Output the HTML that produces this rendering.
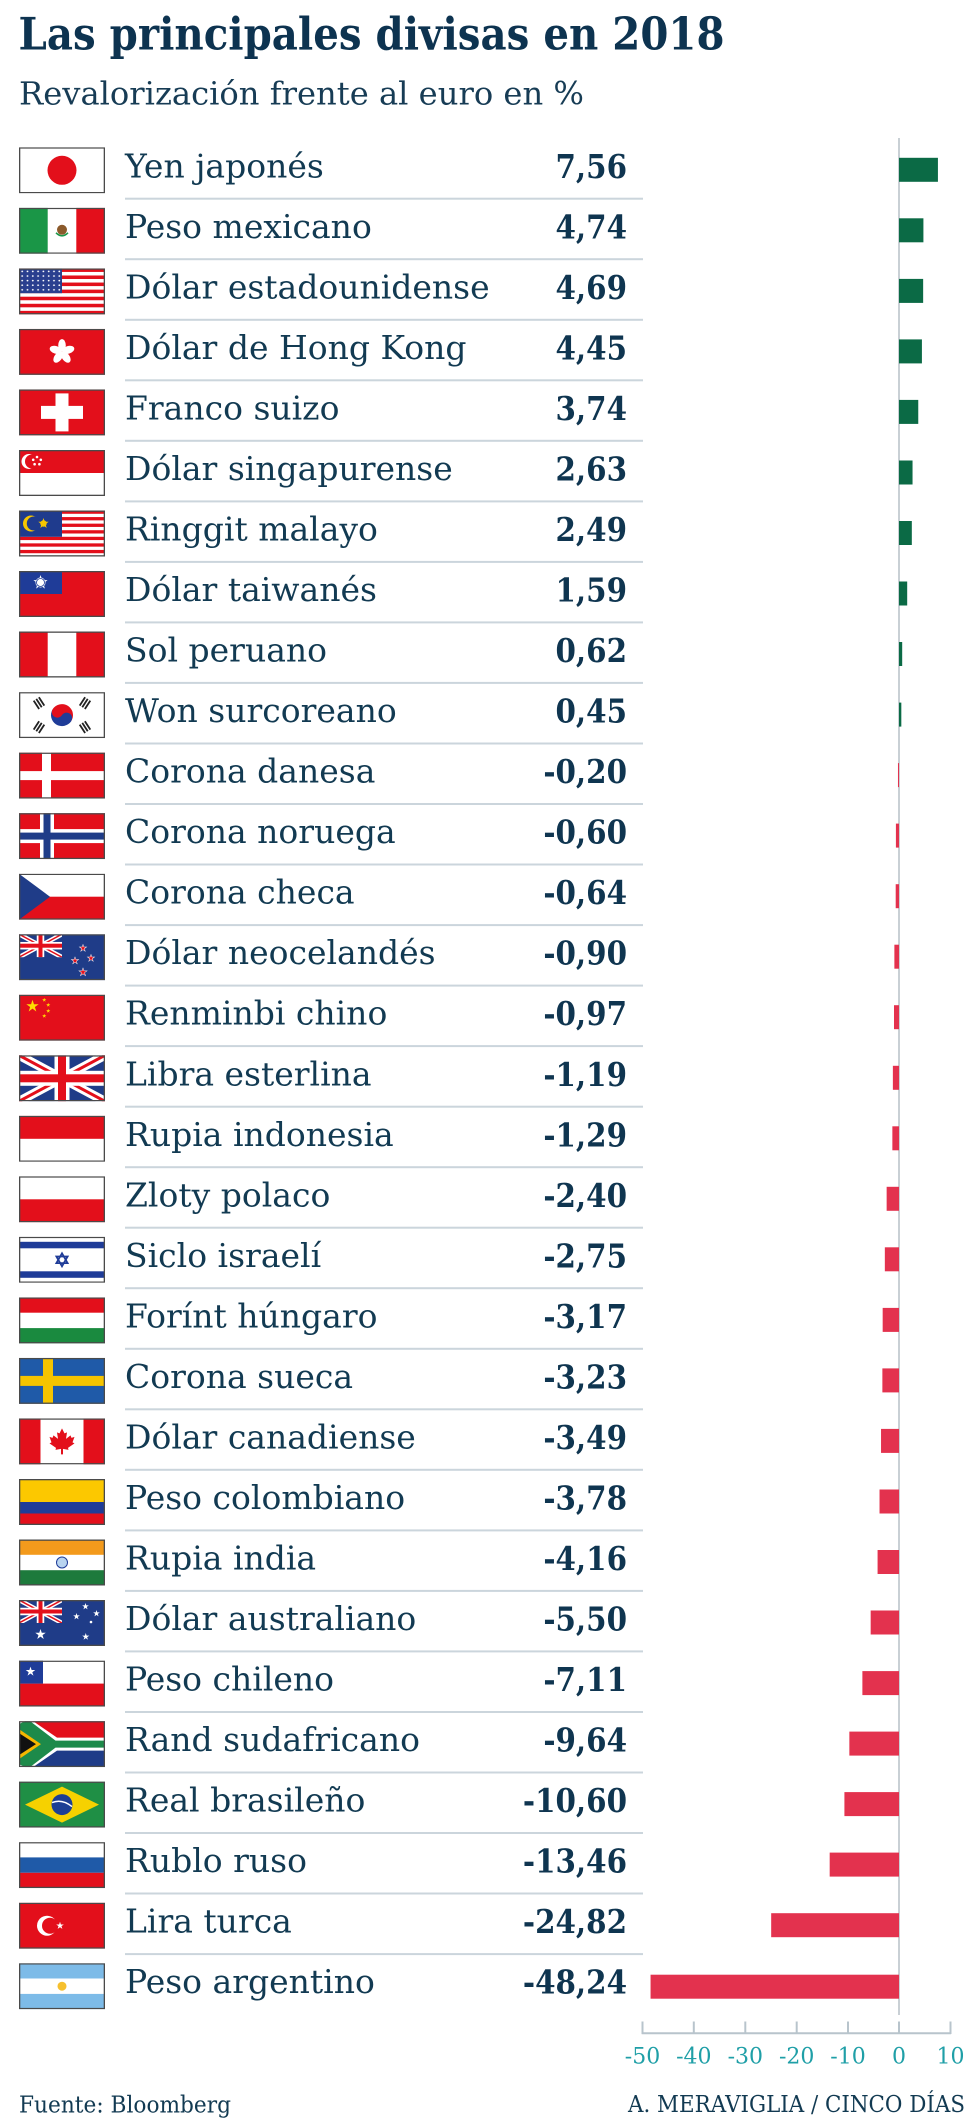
<!DOCTYPE html>
<html><head><meta charset="utf-8"><style>
html,body{margin:0;padding:0;background:#fff}
svg{display:block}
</style></head><body>
<svg xmlns="http://www.w3.org/2000/svg" xmlns:xlink="http://www.w3.org/1999/xlink" width="980" height="2126" viewBox="0 0 980 2126">
<style>
.lb{font-family:"DejaVu Serif","Liberation Serif",serif;font-size:33px;fill:#123a52}
.vl{font-family:"DejaVu Serif","Liberation Serif",serif;font-weight:bold;font-size:33px;fill:#0f3550;text-anchor:end}
.fb{fill:none;stroke:#4a4a4a;stroke-width:1.3}
.tk{font-family:"DejaVu Serif","Liberation Serif",serif;font-size:22px;fill:#1f9fa7;text-anchor:middle}
.ft{font-family:"DejaVu Serif","Liberation Serif",serif;font-size:23px;fill:#123a52}
.sep{fill:#cbd5dc}
.g{fill:#0b6a45}
.r{fill:#e3324e}
</style>
<defs>
<symbol id="uj" viewBox="0 0 86 46" preserveAspectRatio="none">
<rect width="86" height="46" fill="#1f3c88"/>
<path d="M0,0L86,46M86,0L0,46" stroke="#fff" stroke-width="9"/>
<path d="M0,0L86,46M86,0L0,46" stroke="#e30f1b" stroke-width="3"/>
<rect x="35.5" width="15" height="46" fill="#fff"/>
<rect y="15.5" width="86" height="15" fill="#fff"/>
<rect x="39" width="8" height="46" fill="#e30f1b"/>
<rect y="19" width="86" height="8" fill="#e30f1b"/>
</symbol>
<symbol id="st" viewBox="-1 -1 2 2"><polygon points="0,-1 0.225,-0.309 0.951,-0.309 0.363,0.118 0.588,0.809 0,0.382 -0.588,0.809 -0.363,0.118 -0.951,-0.309 -0.225,-0.309"/></symbol>
<pattern id="usst" x="1" y="1" width="5.3" height="4.6" patternUnits="userSpaceOnUse"><circle cx="2.2" cy="2" r="0.9" fill="#fff"/></pattern>
</defs>

<text x="18.5" y="49.3" font-family="DejaVu Serif, Liberation Serif, serif" font-weight="bold" font-size="44.5" fill="#0d3350" textLength="706" lengthAdjust="spacingAndGlyphs">Las principales divisas en 2018</text>
<text x="19" y="104.5" font-family="DejaVu Serif, Liberation Serif, serif" font-size="31.5" fill="#173c55" textLength="565" lengthAdjust="spacingAndGlyphs">Revalorización frente al euro en %</text>

<rect x="898" y="138" width="2" height="1877" fill="#c9d0d5"/>

<g transform="translate(0,147.3)">
<svg x="19" y="0" width="86" height="46" viewBox="0 0 86 46"><rect width="86" height="46" fill="#fff"/><circle cx="43" cy="23" r="14.5" fill="#e30f1b"/><rect class="fb" x="0.65" y="0.65" width="84.7" height="44.7"/></svg>
<text class="lb" x="125" y="30">Yen japonés</text>
<text class="vl" transform="translate(627,30.5) scale(0.89,1)">7,56</text>
<rect class="g" x="899" y="10.5" width="38.93" height="24"/>
<rect class="sep" x="125" y="50.4" width="518" height="2"/>
</g>

<g transform="translate(0,207.8)">
<svg x="19" y="0" width="86" height="46" viewBox="0 0 86 46"><rect width="86" height="46" fill="#fff"/><rect width="28.7" height="46" fill="#1a9647"/><rect x="57.3" width="28.7" height="46" fill="#e30f1b"/><circle cx="43" cy="22" r="5" fill="#8b5a2b"/><path d="M37,25 Q43,31 49,25" stroke="#1a9647" stroke-width="1.5" fill="none"/><rect class="fb" x="0.65" y="0.65" width="84.7" height="44.7"/></svg>
<text class="lb" x="125" y="30">Peso mexicano</text>
<text class="vl" transform="translate(627,30.5) scale(0.89,1)">4,74</text>
<rect class="g" x="899" y="10.5" width="24.41" height="24"/>
<rect class="sep" x="125" y="50.4" width="518" height="2"/>
</g>

<g transform="translate(0,268.4)">
<svg x="19" y="0" width="86" height="46" viewBox="0 0 86 46"><rect width="86" height="46" fill="#fff"/>
<rect y="0" width="86" height="3.54" fill="#e30f1b"/><rect y="7.08" width="86" height="3.54" fill="#e30f1b"/><rect y="14.15" width="86" height="3.54" fill="#e30f1b"/><rect y="21.23" width="86" height="3.54" fill="#e30f1b"/><rect y="28.31" width="86" height="3.54" fill="#e30f1b"/><rect y="35.38" width="86" height="3.54" fill="#e30f1b"/><rect y="42.46" width="86" height="3.54" fill="#e30f1b"/>
<rect width="43" height="24.8" fill="#2a3f8f"/><rect width="43" height="24.8" fill="url(#usst)"/>
<rect class="fb" x="0.65" y="0.65" width="84.7" height="44.7"/></svg>
<text class="lb" x="125" y="30">Dólar estadounidense</text>
<text class="vl" transform="translate(627,30.5) scale(0.89,1)">4,69</text>
<rect class="g" x="899" y="10.5" width="24.15" height="24"/>
<rect class="sep" x="125" y="50.4" width="518" height="2"/>
</g>

<g transform="translate(0,328.9)">
<svg x="19" y="0" width="86" height="46" viewBox="0 0 86 46"><rect width="86" height="46" fill="#e30f1b"/>
<g transform="translate(43,23)" fill="#fff"><ellipse cx="0" cy="-6.5" rx="3.8" ry="6.3"/><ellipse cx="0" cy="-6.5" rx="3.8" ry="6.3" transform="rotate(72)"/><ellipse cx="0" cy="-6.5" rx="3.8" ry="6.3" transform="rotate(144)"/><ellipse cx="0" cy="-6.5" rx="3.8" ry="6.3" transform="rotate(216)"/><ellipse cx="0" cy="-6.5" rx="3.8" ry="6.3" transform="rotate(288)"/></g>
<rect class="fb" x="0.65" y="0.65" width="84.7" height="44.7"/></svg>
<text class="lb" x="125" y="30">Dólar de Hong Kong</text>
<text class="vl" transform="translate(627,30.5) scale(0.89,1)">4,45</text>
<rect class="g" x="899" y="10.5" width="22.92" height="24"/>
<rect class="sep" x="125" y="50.4" width="518" height="2"/>
</g>

<g transform="translate(0,389.4)">
<svg x="19" y="0" width="86" height="46" viewBox="0 0 86 46"><rect width="86" height="46" fill="#e30f1b"/><rect x="22" y="16.5" width="42" height="13" fill="#fff"/><rect x="36.5" y="4" width="13" height="38" fill="#fff"/><rect class="fb" x="0.65" y="0.65" width="84.7" height="44.7"/></svg>
<text class="lb" x="125" y="30">Franco suizo</text>
<text class="vl" transform="translate(627,30.5) scale(0.89,1)">3,74</text>
<rect class="g" x="899" y="10.5" width="19.26" height="24"/>
<rect class="sep" x="125" y="50.4" width="518" height="2"/>
</g>

<g transform="translate(0,450.0)">
<svg x="19" y="0" width="86" height="46" viewBox="0 0 86 46"><rect width="86" height="46" fill="#fff"/><rect width="86" height="23" fill="#e30f1b"/><circle cx="10" cy="11.5" r="7.5" fill="#fff"/><circle cx="13" cy="11.5" r="7" fill="#e30f1b"/>
<g fill="#fff"><circle cx="18" cy="7" r="1.3"/><circle cx="21.8" cy="9.8" r="1.3"/><circle cx="20.4" cy="14.2" r="1.3"/><circle cx="15.6" cy="14.2" r="1.3"/><circle cx="14.2" cy="9.8" r="1.3"/></g>
<rect class="fb" x="0.65" y="0.65" width="84.7" height="44.7"/></svg>
<text class="lb" x="125" y="30">Dólar singapurense</text>
<text class="vl" transform="translate(627,30.5) scale(0.89,1)">2,63</text>
<rect class="g" x="899" y="10.5" width="13.54" height="24"/>
<rect class="sep" x="125" y="50.4" width="518" height="2"/>
</g>

<g transform="translate(0,510.5)">
<svg x="19" y="0" width="86" height="46" viewBox="0 0 86 46"><rect width="86" height="46" fill="#fff"/>
<rect y="0" width="86" height="3.29" fill="#e30f1b"/><rect y="6.57" width="86" height="3.29" fill="#e30f1b"/><rect y="13.14" width="86" height="3.29" fill="#e30f1b"/><rect y="19.71" width="86" height="3.29" fill="#e30f1b"/><rect y="26.29" width="86" height="3.29" fill="#e30f1b"/><rect y="32.86" width="86" height="3.29" fill="#e30f1b"/><rect y="39.43" width="86" height="3.29" fill="#e30f1b"/>
<rect width="43" height="26.3" fill="#1f3b8d"/><circle cx="12" cy="13" r="8" fill="#f7c600"/><circle cx="14.8" cy="13" r="7" fill="#1f3b8d"/><use href="#st" x="19" y="7.5" width="11" height="11" fill="#f7c600"/><circle cx="24.5" cy="13" r="3.2" fill="#f7c600"/>
<rect class="fb" x="0.65" y="0.65" width="84.7" height="44.7"/></svg>
<text class="lb" x="125" y="30">Ringgit malayo</text>
<text class="vl" transform="translate(627,30.5) scale(0.89,1)">2,49</text>
<rect class="g" x="899" y="10.5" width="12.82" height="24"/>
<rect class="sep" x="125" y="50.4" width="518" height="2"/>
</g>

<g transform="translate(0,571.0)">
<svg x="19" y="0" width="86" height="46" viewBox="0 0 86 46"><rect width="86" height="46" fill="#e30f1b"/><rect width="43" height="23" fill="#1f3c98"/><use href="#st" x="14" y="4" width="15" height="15" fill="#fff"/><circle cx="21.5" cy="11.5" r="5" fill="#fff"/><circle cx="21.5" cy="11.5" r="4" fill="none" stroke="#1f3c98" stroke-width="0.8"/><rect class="fb" x="0.65" y="0.65" width="84.7" height="44.7"/></svg>
<text class="lb" x="125" y="30">Dólar taiwanés</text>
<text class="vl" transform="translate(627,30.5) scale(0.89,1)">1,59</text>
<rect class="g" x="899" y="10.5" width="8.19" height="24"/>
<rect class="sep" x="125" y="50.4" width="518" height="2"/>
</g>

<g transform="translate(0,631.5)">
<svg x="19" y="0" width="86" height="46" viewBox="0 0 86 46"><rect width="86" height="46" fill="#fff"/><rect width="28.7" height="46" fill="#e30f1b"/><rect x="57.3" width="28.7" height="46" fill="#e30f1b"/><rect class="fb" x="0.65" y="0.65" width="84.7" height="44.7"/></svg>
<text class="lb" x="125" y="30">Sol peruano</text>
<text class="vl" transform="translate(627,30.5) scale(0.89,1)">0,62</text>
<rect class="g" x="899" y="10.5" width="3.19" height="24"/>
<rect class="sep" x="125" y="50.4" width="518" height="2"/>
</g>

<g transform="translate(0,692.1)">
<svg x="19" y="0" width="86" height="46" viewBox="0 0 86 46"><rect width="86" height="46" fill="#fff"/>
<g transform="rotate(33 43 23)"><path d="M32,23 A11,11 0 0 1 54,23 Z" fill="#e30f1b"/><path d="M32,23 A11,11 0 0 0 54,23 Z" fill="#1f3c98"/><circle cx="37.5" cy="23" r="5.5" fill="#e30f1b"/><circle cx="48.5" cy="23" r="5.5" fill="#1f3c98"/></g>
<g fill="#222"><g transform="translate(20,11) rotate(57)"><rect x="-5" y="-4" width="10" height="1.8"/><rect x="-5" y="-0.9" width="10" height="1.8"/><rect x="-5" y="2.2" width="10" height="1.8"/></g>
<g transform="translate(66,35) rotate(57)"><rect x="-5" y="-4" width="10" height="1.8"/><rect x="-5" y="-0.9" width="10" height="1.8"/><rect x="-5" y="2.2" width="10" height="1.8"/></g>
<g transform="translate(66,11) rotate(-57)"><rect x="-5" y="-4" width="10" height="1.8"/><rect x="-5" y="-0.9" width="10" height="1.8"/><rect x="-5" y="2.2" width="10" height="1.8"/></g>
<g transform="translate(20,35) rotate(-57)"><rect x="-5" y="-4" width="10" height="1.8"/><rect x="-5" y="-0.9" width="10" height="1.8"/><rect x="-5" y="2.2" width="10" height="1.8"/></g></g>
<rect class="fb" x="0.65" y="0.65" width="84.7" height="44.7"/></svg>
<text class="lb" x="125" y="30">Won surcoreano</text>
<text class="vl" transform="translate(627,30.5) scale(0.89,1)">0,45</text>
<rect class="g" x="899" y="10.5" width="2.32" height="24"/>
<rect class="sep" x="125" y="50.4" width="518" height="2"/>
</g>

<g transform="translate(0,752.6)">
<svg x="19" y="0" width="86" height="46" viewBox="0 0 86 46"><rect width="86" height="46" fill="#e30f1b"/><rect x="23" width="9" height="46" fill="#fff"/><rect y="18.5" width="86" height="9" fill="#fff"/><rect class="fb" x="0.65" y="0.65" width="84.7" height="44.7"/></svg>
<text class="lb" x="125" y="30">Corona danesa</text>
<text class="vl" transform="translate(627,30.5) scale(0.89,1)">-0,20</text>
<rect class="r" x="897.97" y="10.5" width="1.03" height="24"/>
<rect class="sep" x="125" y="50.4" width="518" height="2"/>
</g>

<g transform="translate(0,813.1)">
<svg x="19" y="0" width="86" height="46" viewBox="0 0 86 46"><rect width="86" height="46" fill="#e30f1b"/><rect x="21" width="14" height="46" fill="#fff"/><rect y="16" width="86" height="14" fill="#fff"/><rect x="24.5" width="7" height="46" fill="#1f3c88"/><rect y="19.5" width="86" height="7" fill="#1f3c88"/><rect class="fb" x="0.65" y="0.65" width="84.7" height="44.7"/></svg>
<text class="lb" x="125" y="30">Corona noruega</text>
<text class="vl" transform="translate(627,30.5) scale(0.89,1)">-0,60</text>
<rect class="r" x="895.91" y="10.5" width="3.09" height="24"/>
<rect class="sep" x="125" y="50.4" width="518" height="2"/>
</g>

<g transform="translate(0,873.7)">
<svg x="19" y="0" width="86" height="46" viewBox="0 0 86 46"><rect width="86" height="46" fill="#fff"/><rect y="23" width="86" height="23" fill="#e30f1b"/><polygon points="0,0 31,23 0,46" fill="#1f3c88"/><rect class="fb" x="0.65" y="0.65" width="84.7" height="44.7"/></svg>
<text class="lb" x="125" y="30">Corona checa</text>
<text class="vl" transform="translate(627,30.5) scale(0.89,1)">-0,64</text>
<rect class="r" x="895.70" y="10.5" width="3.30" height="24"/>
<rect class="sep" x="125" y="50.4" width="518" height="2"/>
</g>

<g transform="translate(0,934.2)">
<svg x="19" y="0" width="86" height="46" viewBox="0 0 86 46"><rect width="86" height="46" fill="#1f3c88"/><use href="#uj" width="43" height="23"/>
<use href="#st" x="59.5" y="9.5" width="9" height="9" fill="#fff"/><use href="#st" x="61" y="11" width="6" height="6" fill="#e30f1b"/>
<use href="#st" x="67.5" y="19.5" width="9" height="9" fill="#fff"/><use href="#st" x="69" y="21" width="6" height="6" fill="#e30f1b"/>
<use href="#st" x="51.5" y="22" width="9" height="9" fill="#fff"/><use href="#st" x="53" y="23.5" width="6" height="6" fill="#e30f1b"/>
<use href="#st" x="59" y="33" width="10" height="10" fill="#fff"/><use href="#st" x="60.5" y="34.5" width="7" height="7" fill="#e30f1b"/>
<rect class="fb" x="0.65" y="0.65" width="84.7" height="44.7"/></svg>
<text class="lb" x="125" y="30">Dólar neocelandés</text>
<text class="vl" transform="translate(627,30.5) scale(0.89,1)">-0,90</text>
<rect class="r" x="894.37" y="10.5" width="4.64" height="24"/>
<rect class="sep" x="125" y="50.4" width="518" height="2"/>
</g>

<g transform="translate(0,994.7)">
<svg x="19" y="0" width="86" height="46" viewBox="0 0 86 46"><rect width="86" height="46" fill="#e30f1b"/><use href="#st" x="7" y="5" width="13" height="13" fill="#ffde00"/><use href="#st" x="23" y="3" width="4.5" height="4.5" fill="#ffde00"/><use href="#st" x="27" y="8" width="4.5" height="4.5" fill="#ffde00"/><use href="#st" x="27" y="14" width="4.5" height="4.5" fill="#ffde00"/><use href="#st" x="23" y="19" width="4.5" height="4.5" fill="#ffde00"/><rect class="fb" x="0.65" y="0.65" width="84.7" height="44.7"/></svg>
<text class="lb" x="125" y="30">Renminbi chino</text>
<text class="vl" transform="translate(627,30.5) scale(0.89,1)">-0,97</text>
<rect class="r" x="894.00" y="10.5" width="5.00" height="24"/>
<rect class="sep" x="125" y="50.4" width="518" height="2"/>
</g>

<g transform="translate(0,1055.3)">
<svg x="19" y="0" width="86" height="46" viewBox="0 0 86 46"><use href="#uj" width="86" height="46"/><rect class="fb" x="0.65" y="0.65" width="84.7" height="44.7"/></svg>
<text class="lb" x="125" y="30">Libra esterlina</text>
<text class="vl" transform="translate(627,30.5) scale(0.89,1)">-1,19</text>
<rect class="r" x="892.87" y="10.5" width="6.13" height="24"/>
<rect class="sep" x="125" y="50.4" width="518" height="2"/>
</g>

<g transform="translate(0,1115.8)">
<svg x="19" y="0" width="86" height="46" viewBox="0 0 86 46"><rect width="86" height="46" fill="#fff"/><rect width="86" height="23" fill="#e30f1b"/><rect class="fb" x="0.65" y="0.65" width="84.7" height="44.7"/></svg>
<text class="lb" x="125" y="30">Rupia indonesia</text>
<text class="vl" transform="translate(627,30.5) scale(0.89,1)">-1,29</text>
<rect class="r" x="892.36" y="10.5" width="6.64" height="24"/>
<rect class="sep" x="125" y="50.4" width="518" height="2"/>
</g>

<g transform="translate(0,1176.3)">
<svg x="19" y="0" width="86" height="46" viewBox="0 0 86 46"><rect width="86" height="46" fill="#fff"/><rect y="23" width="86" height="23" fill="#e30f1b"/><rect class="fb" x="0.65" y="0.65" width="84.7" height="44.7"/></svg>
<text class="lb" x="125" y="30">Zloty polaco</text>
<text class="vl" transform="translate(627,30.5) scale(0.89,1)">-2,40</text>
<rect class="r" x="886.64" y="10.5" width="12.36" height="24"/>
<rect class="sep" x="125" y="50.4" width="518" height="2"/>
</g>

<g transform="translate(0,1236.8)">
<svg x="19" y="0" width="86" height="46" viewBox="0 0 86 46"><rect width="86" height="46" fill="#fff"/><rect y="5" width="86" height="6.5" fill="#1f3c98"/><rect y="34.5" width="86" height="6.5" fill="#1f3c98"/><polygon points="43,16.5 48.6,26.3 37.4,26.3" fill="none" stroke="#1f3c98" stroke-width="1.8"/><polygon points="43,29.5 48.6,19.7 37.4,19.7" fill="none" stroke="#1f3c98" stroke-width="1.8"/><rect class="fb" x="0.65" y="0.65" width="84.7" height="44.7"/></svg>
<text class="lb" x="125" y="30">Siclo israelí</text>
<text class="vl" transform="translate(627,30.5) scale(0.89,1)">-2,75</text>
<rect class="r" x="884.84" y="10.5" width="14.16" height="24"/>
<rect class="sep" x="125" y="50.4" width="518" height="2"/>
</g>

<g transform="translate(0,1297.4)">
<svg x="19" y="0" width="86" height="46" viewBox="0 0 86 46"><rect width="86" height="46" fill="#fff"/><rect width="86" height="15.3" fill="#e30f1b"/><rect y="30.7" width="86" height="15.3" fill="#1a8a3f"/><rect class="fb" x="0.65" y="0.65" width="84.7" height="44.7"/></svg>
<text class="lb" x="125" y="30">Forínt húngaro</text>
<text class="vl" transform="translate(627,30.5) scale(0.89,1)">-3,17</text>
<rect class="r" x="882.67" y="10.5" width="16.33" height="24"/>
<rect class="sep" x="125" y="50.4" width="518" height="2"/>
</g>

<g transform="translate(0,1357.9)">
<svg x="19" y="0" width="86" height="46" viewBox="0 0 86 46"><rect width="86" height="46" fill="#1f5aa8"/><rect x="24" width="10" height="46" fill="#f5c400"/><rect y="18" width="86" height="10" fill="#f5c400"/><rect class="fb" x="0.65" y="0.65" width="84.7" height="44.7"/></svg>
<text class="lb" x="125" y="30">Corona sueca</text>
<text class="vl" transform="translate(627,30.5) scale(0.89,1)">-3,23</text>
<rect class="r" x="882.37" y="10.5" width="16.63" height="24"/>
<rect class="sep" x="125" y="50.4" width="518" height="2"/>
</g>

<g transform="translate(0,1418.4)">
<svg x="19" y="0" width="86" height="46" viewBox="0 0 86 46"><rect width="86" height="46" fill="#fff"/><rect width="21.5" height="46" fill="#e30f1b"/><rect x="64.5" width="21.5" height="46" fill="#e30f1b"/>
<polygon transform="translate(43,22)" fill="#e30f1b" points="0,-12 2.5,-7 5,-8 4,-1.5 8.5,-5 9.5,-2.5 12.5,-3.5 10.5,2 12.5,3 6,7.5 6.5,9.5 1,8.5 1,14 -1,14 -1,8.5 -6.5,9.5 -6,7.5 -12.5,3 -10.5,2 -12.5,-3.5 -9.5,-2.5 -8.5,-5 -4,-1.5 -5,-8 -2.5,-7"/>
<rect class="fb" x="0.65" y="0.65" width="84.7" height="44.7"/></svg>
<text class="lb" x="125" y="30">Dólar canadiense</text>
<text class="vl" transform="translate(627,30.5) scale(0.89,1)">-3,49</text>
<rect class="r" x="881.03" y="10.5" width="17.97" height="24"/>
<rect class="sep" x="125" y="50.4" width="518" height="2"/>
</g>

<g transform="translate(0,1479.0)">
<svg x="19" y="0" width="86" height="46" viewBox="0 0 86 46"><rect width="86" height="46" fill="#e30f1b"/><rect width="86" height="23" fill="#fcc800"/><rect y="23" width="86" height="11.5" fill="#1f3c98"/><rect class="fb" x="0.65" y="0.65" width="84.7" height="44.7"/></svg>
<text class="lb" x="125" y="30">Peso colombiano</text>
<text class="vl" transform="translate(627,30.5) scale(0.89,1)">-3,78</text>
<rect class="r" x="879.53" y="10.5" width="19.47" height="24"/>
<rect class="sep" x="125" y="50.4" width="518" height="2"/>
</g>

<g transform="translate(0,1539.5)">
<svg x="19" y="0" width="86" height="46" viewBox="0 0 86 46"><rect width="86" height="46" fill="#fff"/><rect width="86" height="15.3" fill="#f39a1c"/><rect y="30.7" width="86" height="15.3" fill="#1d7a3c"/><circle cx="43" cy="23" r="5.5" fill="#b8d4f0" stroke="#1f3c98" stroke-width="1"/><rect class="fb" x="0.65" y="0.65" width="84.7" height="44.7"/></svg>
<text class="lb" x="125" y="30">Rupia india</text>
<text class="vl" transform="translate(627,30.5) scale(0.89,1)">-4,16</text>
<rect class="r" x="877.58" y="10.5" width="21.42" height="24"/>
<rect class="sep" x="125" y="50.4" width="518" height="2"/>
</g>

<g transform="translate(0,1600.0)">
<svg x="19" y="0" width="86" height="46" viewBox="0 0 86 46"><rect width="86" height="46" fill="#1f3c88"/><use href="#uj" width="43" height="23"/>
<use href="#st" x="16" y="29" width="11" height="11" fill="#fff"/><use href="#st" x="63" y="3" width="7" height="7" fill="#fff"/><use href="#st" x="54" y="13" width="7" height="7" fill="#fff"/><use href="#st" x="74" y="10" width="7" height="7" fill="#fff"/><use href="#st" x="63" y="33" width="7.5" height="7.5" fill="#fff"/><circle cx="72" cy="22" r="1.3" fill="#fff"/>
<rect class="fb" x="0.65" y="0.65" width="84.7" height="44.7"/></svg>
<text class="lb" x="125" y="30">Dólar australiano</text>
<text class="vl" transform="translate(627,30.5) scale(0.89,1)">-5,50</text>
<rect class="r" x="870.67" y="10.5" width="28.33" height="24"/>
<rect class="sep" x="125" y="50.4" width="518" height="2"/>
</g>

<g transform="translate(0,1660.6)">
<svg x="19" y="0" width="86" height="46" viewBox="0 0 86 46"><rect width="86" height="46" fill="#fff"/><rect y="23" width="86" height="23" fill="#e30f1b"/><rect width="24" height="23" fill="#1f3c98"/><use href="#st" x="6.5" y="6" width="10" height="10" fill="#fff"/><rect class="fb" x="0.65" y="0.65" width="84.7" height="44.7"/></svg>
<text class="lb" x="125" y="30">Peso chileno</text>
<text class="vl" transform="translate(627,30.5) scale(0.89,1)">-7,11</text>
<rect class="r" x="862.38" y="10.5" width="36.62" height="24"/>
<rect class="sep" x="125" y="50.4" width="518" height="2"/>
</g>

<g transform="translate(0,1721.1)">
<svg x="19" y="0" width="86" height="46" viewBox="0 0 86 46"><rect width="86" height="23" fill="#e30f1b"/><rect y="23" width="86" height="23" fill="#1f3c88"/>
<polygon points="0,0 14,0 38,16.5 86,16.5 86,29.5 38,29.5 14,46 0,46" fill="#fff"/>
<polygon points="0,3 6,0 11,0 36.5,19.5 86,19.5 86,26.5 36.5,26.5 11,46 6,46 0,43" fill="#1d8a4a"/>
<polygon points="0,8 22,23 0,38" fill="#f5b700"/>
<polygon points="0,12 17,23 0,34" fill="#111"/>
<rect class="fb" x="0.65" y="0.65" width="84.7" height="44.7"/></svg>
<text class="lb" x="125" y="30">Rand sudafricano</text>
<text class="vl" transform="translate(627,30.5) scale(0.89,1)">-9,64</text>
<rect class="r" x="849.35" y="10.5" width="49.65" height="24"/>
<rect class="sep" x="125" y="50.4" width="518" height="2"/>
</g>

<g transform="translate(0,1781.6)">
<svg x="19" y="0" width="86" height="46" viewBox="0 0 86 46"><rect width="86" height="46" fill="#1f8f45"/><polygon points="6,23 43,5 80,23 43,41" fill="#f6d100"/><circle cx="43" cy="23" r="10.5" fill="#1c3f94"/><path d="M33,21 Q43,17 53,25" stroke="#fff" stroke-width="1.5" fill="none"/><rect class="fb" x="0.65" y="0.65" width="84.7" height="44.7"/></svg>
<text class="lb" x="125" y="30">Real brasileño</text>
<text class="vl" transform="translate(627,30.5) scale(0.89,1)">-10,60</text>
<rect class="r" x="844.41" y="10.5" width="54.59" height="24"/>
<rect class="sep" x="125" y="50.4" width="518" height="2"/>
</g>

<g transform="translate(0,1842.1)">
<svg x="19" y="0" width="86" height="46" viewBox="0 0 86 46"><rect width="86" height="46" fill="#fff"/><rect y="15.3" width="86" height="15.4" fill="#1f5aa8"/><rect y="30.7" width="86" height="15.3" fill="#e30f1b"/><rect class="fb" x="0.65" y="0.65" width="84.7" height="44.7"/></svg>
<text class="lb" x="125" y="30">Rublo ruso</text>
<text class="vl" transform="translate(627,30.5) scale(0.89,1)">-13,46</text>
<rect class="r" x="829.68" y="10.5" width="69.32" height="24"/>
<rect class="sep" x="125" y="50.4" width="518" height="2"/>
</g>

<g transform="translate(0,1902.7)">
<svg x="19" y="0" width="86" height="46" viewBox="0 0 86 46"><rect width="86" height="46" fill="#e30f1b"/><circle cx="28" cy="23" r="10" fill="#fff"/><circle cx="31" cy="23" r="8" fill="#e30f1b"/><use href="#st" x="37" y="19" width="8" height="8" fill="#fff"/><rect class="fb" x="0.65" y="0.65" width="84.7" height="44.7"/></svg>
<text class="lb" x="125" y="30">Lira turca</text>
<text class="vl" transform="translate(627,30.5) scale(0.89,1)">-24,82</text>
<rect class="r" x="771.18" y="10.5" width="127.82" height="24"/>
<rect class="sep" x="125" y="50.4" width="518" height="2"/>
</g>

<g transform="translate(0,1963.2)">
<svg x="19" y="0" width="86" height="46" viewBox="0 0 86 46"><rect width="86" height="46" fill="#fff"/><rect width="86" height="15.3" fill="#7dbbe8"/><rect y="30.7" width="86" height="15.3" fill="#7dbbe8"/><circle cx="43" cy="23" r="4.5" fill="#f6c02e"/><rect class="fb" x="0.65" y="0.65" width="84.7" height="44.7"/></svg>
<text class="lb" x="125" y="30">Peso argentino</text>
<text class="vl" transform="translate(627,30.5) scale(0.89,1)">-48,24</text>
<rect class="r" x="650.56" y="11.5" width="248.44" height="24"/>
</g>

<g stroke="#b8c4cc" stroke-width="2" fill="none">
<line x1="641.7" y1="2033.3" x2="951" y2="2033.3"/>
<line x1="642.5" y1="2021.5" x2="642.5" y2="2034"/>
<line x1="693.8" y1="2021.5" x2="693.8" y2="2034"/>
<line x1="745.3" y1="2021.5" x2="745.3" y2="2034"/>
<line x1="796.7" y1="2021.5" x2="796.7" y2="2034"/>
<line x1="848" y1="2021.5" x2="848" y2="2034"/>
<line x1="899" y1="2021.5" x2="899" y2="2034"/>
<line x1="950.5" y1="2021.5" x2="950.5" y2="2034"/>
</g>
<text class="tk" x="642.5" y="2063.3">-50</text>
<text class="tk" x="693.8" y="2063.3">-40</text>
<text class="tk" x="745.3" y="2063.3">-30</text>
<text class="tk" x="796.7" y="2063.3">-20</text>
<text class="tk" x="848" y="2063.3">-10</text>
<text class="tk" x="899" y="2063.3">0</text>
<text class="tk" x="950.5" y="2063.3">10</text>

<text class="ft" x="19" y="2112.5" textLength="212" lengthAdjust="spacingAndGlyphs">Fuente: Bloomberg</text>
<text class="ft" x="628" y="2112" textLength="337" lengthAdjust="spacingAndGlyphs">A. MERAVIGLIA / CINCO DÍAS</text>
</svg>
</body></html>
